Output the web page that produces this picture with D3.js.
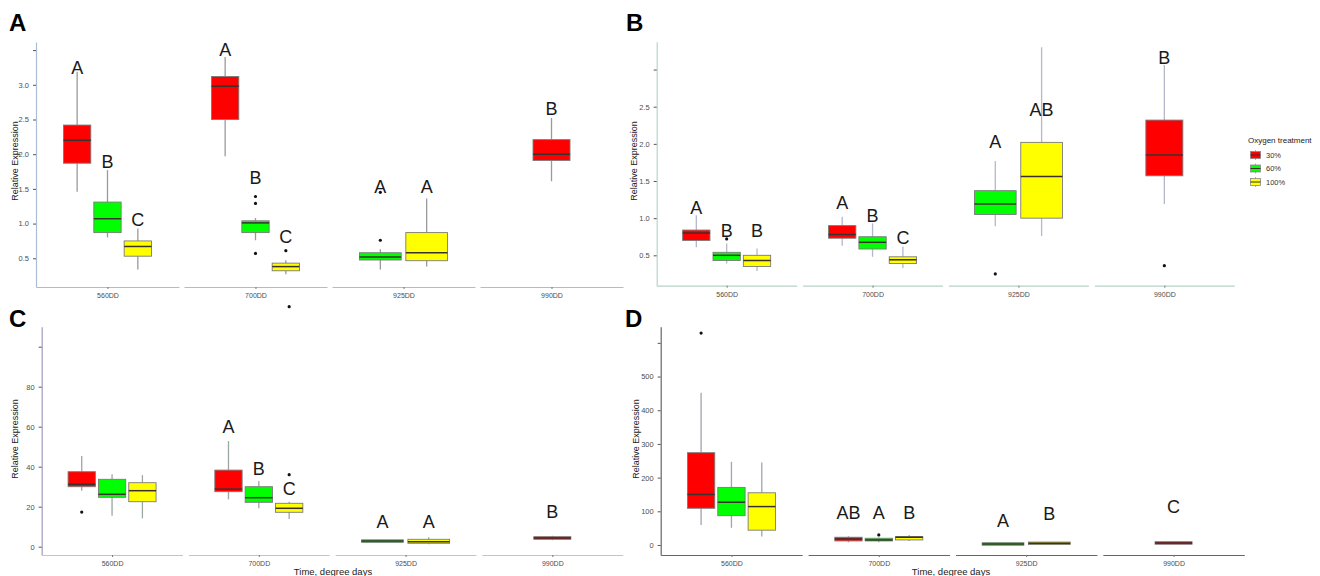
<!DOCTYPE html>
<html>
<head>
<meta charset="utf-8">
<script src="https://cdn.jsdelivr.net/npm/d3@7"></script>
<style>
  body { margin: 0; background: #fff; }
  svg { display: block; font-family: "Liberation Sans", Arial, sans-serif; }
</style>
</head>
<body>
<svg id="chart" width="1320" height="576"></svg>
<script>
var timePoints = ["560DD", "700DD", "925DD", "990DD"];
var treatments = ["30%", "60%", "100%"];
var treatmentColors = ["#ff0000", "#00ff00", "#ffff00"];

// [time, treatment, lower whisker, Q1, median, Q3, upper whisker, outliers, letter, letter height]
var boxesA = [
  ["560DD", "30%", 1.46, 1.87, 2.20, 2.42, 3.19, [], "A", 3.16],
  ["560DD", "60%", 0.80, 0.87, 1.07, 1.31, 1.77, [], "B", 1.80],
  ["560DD", "100%", 0.34, 0.53, 0.67, 0.75, 0.93, [], "C", 0.97],
  ["700DD", "30%", 1.97, 2.50, 2.98, 3.12, 3.40, [], "A", 3.42],
  ["700DD", "60%", 0.76, 0.87, 1.01, 1.04, 1.08, [0.57, 1.29, 1.39], "B", 1.57],
  ["700DD", "100%", 0.27, 0.32, 0.38, 0.43, 0.47, [0.61], "C", 0.72],
  ["925DD", "60%", 0.34, 0.475, 0.52, 0.58, 0.63, [0.76, 1.45], "A", 1.44],
  ["925DD", "100%", 0.38, 0.465, 0.58, 0.87, 1.36, [], "A", 1.44],
  ["990DD", "30%", 1.61, 1.91, 2.00, 2.21, 2.52, [], "B", 2.56]
];

var boxesB = [
  ["560DD", "30%", 0.61, 0.70, 0.80, 0.84, 1.04, [], "A", 1.05],
  ["560DD", "60%", 0.39, 0.43, 0.50, 0.54, 0.66, [0.72], "B", 0.74],
  ["560DD", "100%", 0.29, 0.35, 0.43, 0.50, 0.59, [], "B", 0.74],
  ["700DD", "30%", 0.63, 0.73, 0.78, 0.90, 1.02, [], "A", 1.12],
  ["700DD", "60%", 0.48, 0.585, 0.675, 0.75, 0.93, [], "B", 0.95],
  ["700DD", "100%", 0.33, 0.39, 0.44, 0.48, 0.62, [], "C", 0.65],
  ["925DD", "60%", 0.89, 1.05, 1.19, 1.37, 1.77, [0.25], "A", 1.95],
  ["925DD", "100%", 0.76, 1.00, 1.56, 2.02, 3.30, [], "AB", 2.38],
  ["990DD", "30%", 1.19, 1.57, 1.85, 2.32, 3.06, [0.36], "B", 3.08]
];

var boxesC = [
  ["560DD", "30%", 28, 30, 31.2, 37.5, 45.3, [17.3], "", 0],
  ["560DD", "60%", 15.5, 24.7, 26.2, 33.7, 36.2, [], "", 0],
  ["560DD", "100%", 14.2, 22.5, 28, 32, 35.8, [], "", 0],
  ["700DD", "30%", 23.7, 27.5, 28.8, 38.3, 52.8, [], "A", 57],
  ["700DD", "60%", 19.2, 22.2, 24.5, 30, 32.8, [], "B", 35.8],
  ["700DD", "100%", 13.8, 17.2, 19.2, 21.7, 22.5, [36, 120], "C", 25.8],
  ["925DD", "60%", 2.2, 2.5, 2.8, 3.2, 3.4, [], "A", 9.2],
  ["925DD", "100%", 1.2, 1.7, 2.5, 3.7, 4.7, [], "A", 9.2],
  ["990DD", "30%", 3.2, 3.7, 4.3, 5.0, 5.5, [], "B", 14.2]
];

var boxesD = [
  ["560DD", "30%", 59, 109, 150, 274, 452, [629], "", 0],
  ["560DD", "60%", 51, 87, 127, 171, 247, [], "", 0],
  ["560DD", "100%", 25, 44, 114, 155, 245, [], "", 0],
  ["700DD", "30%", 8, 12, 18, 23, 26, [], "AB", 77],
  ["700DD", "60%", 8, 12, 15, 20, 22, [30], "A", 77],
  ["700DD", "100%", 12, 15, 23, 25, 30, [], "B", 77],
  ["925DD", "60%", 1, 2, 3, 4, 5, [], "A", 54],
  ["925DD", "100%", 3, 4, 5, 7, 9, [], "B", 74],
  ["990DD", "30%", 3, 5, 6, 8, 10, [], "C", 94]
];

var ticksA = [0.5, 1, 1.5, 2, 2.5, 3, 3.5];
var tickLabelsA = ["0.5", "1.0", "1.5", "2.0", "2.5", "3.0", ""];
var ticksB = [0.5, 1, 1.5, 2, 2.5, 3];
var tickLabelsB = ["0.5", "1.0", "1.5", "2.0", "2.5", ""];
var ticksC = [0, 20, 40, 60, 80, 100];
var tickLabelsC = ["0", "20", "40", "60", "80", ""];
var ticksD = [0, 100, 200, 300, 400, 500, 600];
var tickLabelsD = ["0", "100", "200", "300", "400", "500", ""];

var svg = d3.select("#chart");
var color = d3.scaleOrdinal().domain(treatments).range(treatmentColors);

var panels = [
  { name: "A", data: boxesA, ticks: ticksA, labels: tickLabelsA, domain: [0.086, 3.617],
    x0: 36, x1: 623, gap: 0.034, top: 42, bottom: 287, letterX: 9, letterY: 31,
    titleX: 15, titleY: 161, axisY: "#a9bdd5", axisX: "#a9bdd5", whisker: "#9a9a9a", xTitle: null },
  { name: "B", data: boxesB, ticks: ticksB, labels: tickLabelsB, domain: [0.091, 3.375],
    x0: 656.7, x1: 1234.3, gap: 0.041, top: 41.7, bottom: 285.7, letterX: 626, letterY: 31,
    titleX: 634, titleY: 161, axisY: "#b5d6cc", axisX: "#b9d2c4", whisker: "#b4b8cc", xTitle: null },
  { name: "C", data: boxesC, ticks: ticksC, labels: tickLabelsC, domain: [-4.15, 110],
    x0: 41.7, x1: 622.7, gap: 0.041, top: 326.7, bottom: 555, letterX: 9, letterY: 327,
    titleX: 15, titleY: 439, axisY: "#9c9cc0", axisX: "#a9d3bd", whisker: "#9aa8a0", xTitle: 333 },
  { name: "D", data: boxesD, ticks: ticksD, labels: tickLabelsD, domain: [-29.7, 648],
    x0: 660.7, x1: 1244.3, gap: 0.04, top: 326.7, bottom: 555, letterX: 625, letterY: 327,
    titleX: 636, titleY: 439, axisY: "#666666", axisX: "#666666", whisker: "#a0a4b4", xTitle: 951 }
];

function drawPanel(p) {
  var g = svg.append("g").attr("class", "panel-" + p.name);

  var y = d3.scaleLinear().domain(p.domain).range([p.bottom, p.top]);
  var fx = d3.scaleBand().domain(timePoints).range([p.x0, p.x1]).paddingInner(p.gap);

  // y axis
  var yAxis = d3.axisLeft(y)
    .tickValues(p.ticks)
    .tickFormat(function(d, i) { return p.labels[i]; })
    .tickSize(3)
    .tickSizeOuter(0)
    .tickPadding(4);

  var ya = g.append("g").attr("transform", "translate(" + p.x0 + ",0)").call(yAxis);
  ya.select(".domain").attr("stroke", p.axisY).attr("stroke-width", 1.2);
  ya.selectAll(".tick line").attr("stroke", "#555");
  ya.selectAll(".tick text").attr("fill", "#4d4d4d").style("font-size", "7.5px").style("font-family", "inherit");

  // one x axis segment per facet
  timePoints.forEach(function(t) {
    var sx = d3.scalePoint().domain([t]).range([fx(t), fx(t) + fx.bandwidth()]).padding(0.5);
    var xa = g.append("g").attr("transform", "translate(0," + p.bottom + ")")
      .call(d3.axisBottom(sx).tickSize(2).tickSizeOuter(0).tickPadding(4));
    xa.select(".domain").attr("stroke", p.axisX).attr("stroke-width", 1.2);
    xa.selectAll(".tick line").attr("stroke", "#777");
    xa.selectAll(".tick text").attr("fill", "#4d4d4d").style("font-size", "7px").style("font-family", "inherit");
  });

  // boxes
  var rows = p.data.map(function(r) {
    return { time: r[0], group: r[1], lo: r[2], q1: r[3], med: r[4], q3: r[5], hi: r[6],
             out: r[7], letter: r[8], letterAt: r[9] };
  });

  timePoints.forEach(function(t) {
    var present = rows.filter(function(r) { return r.time === t; });
    var c = fx(t) + fx.bandwidth() / 2;
    var inner = d3.scaleBand()
      .domain(treatments.filter(function(tr) { return present.some(function(r) { return r.group === tr; }); }))
      .range([c - 44, c + 44])
      .paddingInner(0.1);
    var bw = present.length === 1 ? 37 : inner.bandwidth();

    present.forEach(function(r) {
      var cx = present.length === 1 ? c : inner(r.group) + inner.bandwidth() / 2;
      var bg = g.append("g");

      bg.append("line")
        .attr("x1", cx).attr("x2", cx)
        .attr("y1", y(r.hi)).attr("y2", y(r.q3))
        .attr("stroke", p.whisker).attr("stroke-width", 1.3);
      bg.append("line")
        .attr("x1", cx).attr("x2", cx)
        .attr("y1", y(r.q1)).attr("y2", y(r.lo))
        .attr("stroke", p.whisker).attr("stroke-width", 1.3);

      // very flat boxes still show a couple of pixels, as in the original
      var h = y(r.q1) - y(r.q3);
      var top = h < 2.5 ? y(r.med) - 1.25 : y(r.q3);
      bg.append("rect")
        .attr("x", cx - bw / 2)
        .attr("y", top)
        .attr("width", bw)
        .attr("height", Math.max(h, 2.5))
        .attr("fill", color(r.group))
        .attr("stroke", "#7a7a7a")
        .attr("stroke-width", 0.9);

      bg.append("line")
        .attr("x1", cx - bw / 2).attr("x2", cx + bw / 2)
        .attr("y1", y(r.med)).attr("y2", y(r.med))
        .attr("stroke", "#3b3030").attr("stroke-width", 1.5);

      bg.selectAll("circle")
        .data(r.out)
        .enter().append("circle")
        .attr("cx", cx)
        .attr("cy", function(d) { return y(d); })
        .attr("r", 1.6)
        .attr("fill", "#111");

      if (r.letter) {
        g.append("text")
          .attr("x", cx)
          .attr("y", y(r.letterAt))
          .attr("text-anchor", "middle")
          .attr("fill", "#1a1a1a")
          .style("font-size", "18px")
          .text(r.letter);
      }
    });
  });

  // titles
  g.append("text")
    .attr("transform", "translate(" + p.titleX + "," + p.titleY + ") rotate(-90)")
    .attr("text-anchor", "middle")
    .attr("dy", "0.35em")
    .attr("fill", "#222")
    .style("font-size", "9px")
    .text("Relative Expression");

  if (p.xTitle) {
    g.append("text")
      .attr("x", p.xTitle)
      .attr("y", 575)
      .attr("text-anchor", "middle")
      .attr("fill", "#222")
      .style("font-size", "9.5px")
      .text("Time, degree days");
  }

  g.append("text")
    .attr("x", p.letterX)
    .attr("y", p.letterY)
    .attr("fill", "#000")
    .style("font-size", "24px")
    .style("font-weight", "bold")
    .text(p.name);
}

panels.forEach(drawPanel);

/* legend */
var legend = svg.append("g").attr("transform", "translate(1248,0)");
legend.append("text")
  .attr("x", 0).attr("y", 143)
  .attr("fill", "#222")
  .style("font-size", "8px")
  .text("Oxygen treatment");

var keyY = d3.scalePoint().domain(treatments).range([155, 182]);
var key = legend.selectAll(".key")
  .data(treatments)
  .enter().append("g")
  .attr("class", "key")
  .attr("transform", function(d) { return "translate(0," + keyY(d) + ")"; });

key.append("line")
  .attr("x1", 7.5).attr("x2", 7.5).attr("y1", -5).attr("y2", 5)
  .attr("stroke", "#999").attr("stroke-width", 0.8);
key.append("rect")
  .attr("x", 2.5).attr("y", -3.5).attr("width", 10).attr("height", 7)
  .attr("fill", function(d) { return color(d); })
  .attr("stroke", "#8a8a8a").attr("stroke-width", 0.8);
key.append("line")
  .attr("x1", 2.5).attr("x2", 12.5).attr("y1", 0).attr("y2", 0)
  .attr("stroke", "#3b3030").attr("stroke-width", 1);
key.append("text")
  .attr("x", 18).attr("y", 0).attr("dy", "0.35em")
  .attr("fill", "#333")
  .style("font-size", "7.5px")
  .text(function(d) { return d; });
</script>
</body>
</html>
